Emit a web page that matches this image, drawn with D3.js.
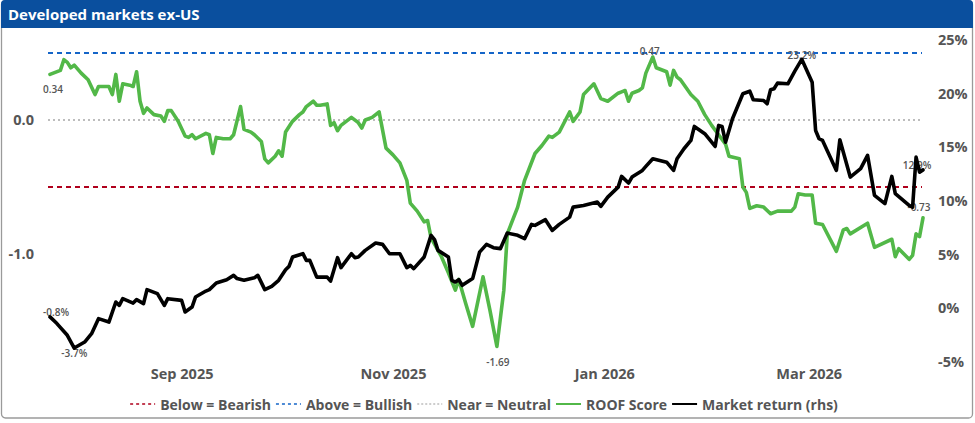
<!DOCTYPE html>
<html><head><meta charset="utf-8">
<script src="https://cdn.jsdelivr.net/npm/d3@7"></script>
<style>
html,body{margin:0;padding:0;background:#fff;}
svg{display:block;font-family:"Open Sans",sans-serif;}
</style></head>
<body><svg id="c" width="975" height="423"></svg>
<script>
const titleText = "Developed markets ex-US";
const roofScore = [["2025-07-25",0.34],["2025-07-28",0.37],["2025-07-29",0.45],["2025-07-30",0.43],["2025-07-31",0.39],["2025-08-01",0.41],["2025-08-03",0.35],["2025-08-05",0.30],["2025-08-07",0.19],["2025-08-08",0.25],["2025-08-11",0.25],["2025-08-12",0.19],["2025-08-13",0.34],["2025-08-14",0.14],["2025-08-15",0.27],["2025-08-17",0.26],["2025-08-18",0.25],["2025-08-19",0.36],["2025-08-20",0.14],["2025-08-21",0.05],["2025-08-22",0.09],["2025-08-24",0.04],["2025-08-26",0.03],["2025-08-27",-0.01],["2025-08-28",0.07],["2025-08-29",0.07],["2025-08-31",-0.01],["2025-09-02",-0.12],["2025-09-03",-0.13],["2025-09-04",-0.11],["2025-09-05",-0.14],["2025-09-08",-0.10],["2025-09-09",-0.11],["2025-09-10",-0.25],["2025-09-11",-0.13],["2025-09-13",-0.14],["2025-09-15",-0.14],["2025-09-16",-0.11],["2025-09-18",0.10],["2025-09-19",-0.07],["2025-09-21",-0.09],["2025-09-22",-0.11],["2025-09-24",-0.16],["2025-09-25",-0.29],["2025-09-26",-0.32],["2025-09-28",-0.27],["2025-09-29",-0.23],["2025-09-30",-0.27],["2025-10-01",-0.09],["2025-10-03",-0.01],["2025-10-05",0.04],["2025-10-06",0.06],["2025-10-07",0.10],["2025-10-09",0.14],["2025-10-10",0.11],["2025-10-11",0.11],["2025-10-13",0.12],["2025-10-14",-0.04],["2025-10-15",-0.02],["2025-10-16",-0.08],["2025-10-17",-0.04],["2025-10-20",0.02],["2025-10-22",-0.02],["2025-10-23",-0.06],["2025-10-24",0.00],["2025-10-26",0.02],["2025-10-28",0.06],["2025-10-30",-0.21],["2025-11-01",-0.26],["2025-11-03",-0.32],["2025-11-05",-0.45],["2025-11-06",-0.62],["2025-11-08",-0.68],["2025-11-10",-0.76],["2025-11-11",-0.75],["2025-11-12",-0.88],["2025-11-15",-1.02],["2025-11-17",-1.14],["2025-11-19",-1.27],["2025-11-20",-1.19],["2025-11-22",-1.37],["2025-11-24",-1.54],["2025-11-27",-1.17],["2025-11-29",-1.42],["2025-12-01",-1.69],["2025-12-03",-1.27],["2025-12-04",-0.85],["2025-12-07",-0.65],["2025-12-09",-0.45],["2025-12-12",-0.25],["2025-12-14",-0.19],["2025-12-16",-0.12],["2025-12-17",-0.13],["2025-12-19",-0.09],["2025-12-22",0.06],["2025-12-23",-0.01],["2025-12-25",0.06],["2025-12-26",0.19],["2025-12-29",0.27],["2025-12-31",0.16],["2026-01-02",0.14],["2026-01-05",0.20],["2026-01-06",0.21],["2026-01-07",0.22],["2026-01-08",0.14],["2026-01-09",0.20],["2026-01-11",0.22],["2026-01-12",0.24],["2026-01-13",0.35],["2026-01-15",0.47],["2026-01-16",0.39],["2026-01-19",0.36],["2026-01-20",0.26],["2026-01-21",0.37],["2026-01-22",0.32],["2026-01-23",0.30],["2026-01-26",0.19],["2026-01-28",0.14],["2026-01-30",0.04],["2026-02-01",-0.04],["2026-02-03",-0.11],["2026-02-05",-0.18],["2026-02-06",-0.27],["2026-02-09",-0.29],["2026-02-10",-0.50],["2026-02-11",-0.54],["2026-02-12",-0.66],["2026-02-14",-0.64],["2026-02-16",-0.65],["2026-02-18",-0.70],["2026-02-20",-0.68],["2026-02-24",-0.68],["2026-02-25",-0.65],["2026-02-26",-0.55],["2026-02-28",-0.56],["2026-03-02",-0.56],["2026-03-03",-0.77],["2026-03-05",-0.78],["2026-03-09",-0.98],["2026-03-11",-0.82],["2026-03-12",-0.81],["2026-03-13",-0.85],["2026-03-18",-0.77],["2026-03-20",-0.95],["2026-03-25",-0.89],["2026-03-26",-1.02],["2026-03-27",-0.96],["2026-03-30",-1.04],["2026-03-31",-1.01],["2026-04-01",-0.85],["2026-04-02",-0.87],["2026-04-03",-0.73]];
const marketReturn = [["2025-07-25",-0.8],["2025-07-27",-1.42],["2025-07-30",-2.51],["2025-08-01",-3.7],["2025-08-04",-3.14],["2025-08-06",-2.36],["2025-08-08",-0.96],["2025-08-11",-1.28],["2025-08-13",0.59],["2025-08-14",0.28],["2025-08-15",0.90],["2025-08-18",0.49],["2025-08-19",0.81],["2025-08-21",0.44],["2025-08-22",1.74],["2025-08-25",1.37],["2025-08-27",0.28],["2025-08-28",0.90],["2025-09-01",0.74],["2025-09-02",-0.34],["2025-09-04",0.12],["2025-09-05",1.05],["2025-09-08",1.61],["2025-09-09",1.74],["2025-09-11",2.36],["2025-09-14",2.67],["2025-09-16",3.07],["2025-09-17",2.77],["2025-09-19",2.61],["2025-09-22",2.86],["2025-09-23",3.07],["2025-09-25",1.74],["2025-09-27",2.05],["2025-09-29",2.61],["2025-10-01",3.60],["2025-10-02",3.91],["2025-10-03",4.78],["2025-10-06",5.09],["2025-10-07",4.47],["2025-10-08",4.47],["2025-10-10",2.91],["2025-10-13",2.91],["2025-10-14",2.54],["2025-10-16",4.72],["2025-10-17",3.79],["2025-10-20",5.09],["2025-10-21",4.72],["2025-10-22",4.78],["2025-10-24",5.40],["2025-10-27",6.08],["2025-10-29",5.96],["2025-10-31",5.09],["2025-11-03",5.09],["2025-11-05",3.79],["2025-11-06",4.00],["2025-11-07",3.70],["2025-11-10",4.78],["2025-11-12",6.80],["2025-11-13",6.40],["2025-11-14",5.40],["2025-11-17",4.78],["2025-11-18",2.61],["2025-11-19",2.45],["2025-11-20",2.67],["2025-11-21",2.14],["2025-11-24",2.77],["2025-11-26",5.24],["2025-11-28",5.96],["2025-11-30",5.65],["2025-12-02",5.56],["2025-12-04",7.01],["2025-12-07",6.80],["2025-12-09",6.49],["2025-12-11",7.82],["2025-12-12",7.73],["2025-12-15",8.26],["2025-12-17",7.26],["2025-12-19",7.82],["2025-12-22",8.50],["2025-12-23",9.43],["2025-12-26",9.59],["2025-12-30",9.90],["2025-12-31",9.50],["2026-01-02",10.36],["2026-01-05",11.29],["2026-01-06",12.29],["2026-01-08",11.67],["2026-01-09",12.23],["2026-01-12",12.85],["2026-01-13",13.22],["2026-01-15",13.94],["2026-01-19",13.62],["2026-01-21",12.85],["2026-01-22",13.94],["2026-01-24",14.87],["2026-01-26",15.64],["2026-01-27",16.95],["2026-01-30",16.27],["2026-02-02",15.08],["2026-02-03",17.04],["2026-02-04",16.95],["2026-02-05",15.48],["2026-02-07",17.66],["2026-02-10",19.99],["2026-02-12",20.23],["2026-02-13",19.43],["2026-02-16",19.37],["2026-02-17",19.06],["2026-02-18",20.36],["2026-02-19",20.46],["2026-02-20",20.98],["2026-02-23",20.92],["2026-02-25",22.10],["2026-02-27",23.2],["2026-03-02",21.07],["2026-03-03",16.57],["2026-03-04",15.80],["2026-03-05",15.64],["2026-03-09",12.85],["2026-03-10",15.71],["2026-03-13",12.23],["2026-03-16",13.01],["2026-03-18",14.25],["2026-03-20",10.52],["2026-03-23",9.75],["2026-03-25",12.29],["2026-03-26",10.68],["2026-03-30",9.59],["2026-03-31",9.43],["2026-04-01",14.09],["2026-04-02",12.69],["2026-04-03",12.9]];
const thresholds = [
  {name:"Below = Bearish", value:-0.5, color:"#b0001c", dash:"5,4", legendDash:"3,3", w:2},
  {name:"Above = Bullish", value:0.5, color:"#1565c8", dash:"5,4", legendDash:"3,3", w:2},
  {name:"Near = Neutral", value:0, color:"#bdbdbd", dash:"2,3", legendDash:"2,2", w:2}
];
const leftTicks = [0, -1];
const rightTicks = [-5, 0, 5, 10, 15, 20, 25];
const xTicks = ["2025-09-01","2025-11-01","2026-01-01","2026-03-01"];
const xDomain = ["2025-07-25","2026-04-03"];
const leftDomain = [-1.806, 0.597];
const rightDomain = [-5, 25];
const roofLabels = [
  {date:"2025-07-25", text:"0.34", dx:-7, dy:15, anchor:"start"},
  {date:"2025-12-01", text:"-1.69", dx:1, dy:16, anchor:"middle"},
  {date:"2026-01-15", text:"0.47", dx:-3, dy:-6, anchor:"middle"},
  {date:"2026-04-03", text:"-0.73", dx:-4, dy:-10, anchor:"middle"}
];
const retLabels = [
  {date:"2025-07-25", text:"-0.8%", dx:-7, dy:0, anchor:"start"},
  {date:"2025-08-01", text:"-3.7%", dx:0, dy:9, anchor:"middle"},
  {date:"2026-02-27", text:"23.2%", dx:0, dy:0, anchor:"middle"},
  {date:"2026-04-03", text:"12.9%", dx:-6, dy:0, anchor:"middle"}
];
const seriesLegend = [{name:"ROOF Score", color:"#52b848"},{name:"Market return (rhs)", color:"#000"}];

const parse = d3.timeParse("%Y-%m-%d");
const svg = d3.select("#c");
const fmtMinus = s => s.replace("\u2212","-");
const textColor = "#555";

// frame
svg.append("rect").attr("x",1.5).attr("y",0.5).attr("width",971).attr("height",417.5)
  .attr("rx",4).attr("fill","#fff").attr("stroke","#9a9a9a").attr("stroke-width",1.3);
svg.append("path").attr("d","M1,28 L1,4 Q1,0 5,0 L969,0 Q973,0 973,4 L973,28 Z").attr("fill","#0a4f9e");
svg.append("text").attr("x",8).attr("y",20).attr("fill","#fff").attr("font-size",15)
  .attr("font-weight",700).text(titleText);

const x = d3.scaleTime().domain(xDomain.map(parse)).range([50, 923]);
const yL = d3.scaleLinear().domain(leftDomain).range([362, 40]);
const yR = d3.scaleLinear().domain(rightDomain).range([362, 40]);

// threshold lines
svg.append("g").selectAll("line").data(thresholds).join("line")
  .attr("x1", 48).attr("x2", 922)
  .attr("y1", d => yL(d.value)).attr("y2", d => yL(d.value))
  .attr("stroke", d => d.color).attr("stroke-width", d => d.w).attr("stroke-dasharray", d => d.dash);

// axes
const axisStyle = g => {
  g.select(".domain").remove();
  g.selectAll(".tick line").remove();
  g.selectAll("text").attr("fill",textColor).attr("font-size",14.5).attr("font-weight",700)
    .attr("font-family","'Open Sans',sans-serif");
};
svg.append("g").attr("transform","translate(34,0)")
  .call(d3.axisLeft(yL).tickValues(leftTicks).tickSize(0).tickPadding(0).tickFormat(d => fmtMinus(d3.format(".1f")(d))))
  .call(axisStyle);
svg.append("g").attr("transform","translate(938,0)")
  .call(d3.axisRight(yR).tickValues(rightTicks).tickSize(0).tickPadding(0).tickFormat(d => d + "%"))
  .call(axisStyle);
svg.append("g").attr("transform","translate(0,369)")
  .call(d3.axisBottom(x).tickValues(xTicks.map(parse)).tickSize(0).tickPadding(0).tickFormat(d3.timeFormat("%b %Y")))
  .call(axisStyle);

// data labels (under lines)
const lblG = svg.append("g").attr("font-size",10).attr("font-weight",600).attr("fill",textColor);
const roofMap = new Map(roofScore), retMap = new Map(marketReturn);
roofLabels.forEach(l => {
  lblG.append("text").attr("x", x(parse(l.date)) + l.dx).attr("y", yL(roofMap.get(l.date)) + l.dy + 3.5)
    .attr("text-anchor", l.anchor).text(l.text);
});
retLabels.forEach(l => {
  lblG.append("text").attr("x", x(parse(l.date)) + l.dx).attr("y", yR(retMap.get(l.date)) + l.dy - 0.5)
    .attr("text-anchor", l.anchor).text(l.text);
});

// lines
const lineL = d3.line().x(d => x(parse(d[0]))).y(d => yL(d[1]));
const lineR = d3.line().x(d => x(parse(d[0]))).y(d => yR(d[1]));
svg.append("path").datum(roofScore).attr("d", lineL).attr("fill","none")
  .attr("stroke", seriesLegend[0].color).attr("stroke-width",3.6).attr("stroke-linejoin","round").attr("stroke-linecap","round");
svg.append("path").datum(marketReturn).attr("d", lineR).attr("fill","none")
  .attr("stroke", seriesLegend[1].color).attr("stroke-width",3.6).attr("stroke-linejoin","round").attr("stroke-linecap","round");

// legend
const legItems = thresholds.map(t => ({name:t.name, color:t.color, dash:t.legendDash, w:1.5}))
  .concat(seriesLegend.map(s => ({name:s.name, color:s.color, dash:null, w:2})));
const leg = svg.append("g");
let cx = 0;
const legY = 404;
legItems.forEach(it => {
  const g = leg.append("g");
  g.append("line").attr("x1",cx).attr("x2",cx+25).attr("y1",legY).attr("y2",legY)
    .attr("stroke",it.color).attr("stroke-width",it.w).attr("stroke-dasharray",it.dash);
  const t = g.append("text").attr("x",cx+30).attr("y",legY+5.5).attr("font-size",14).attr("font-weight",700)
    .attr("fill",textColor).text(it.name);
  cx += 30 + t.node().getComputedTextLength() + 5;
});
const legW = cx - 5;
leg.attr("transform", `translate(${484 - legW/2},0)`);
</script></body></html>
